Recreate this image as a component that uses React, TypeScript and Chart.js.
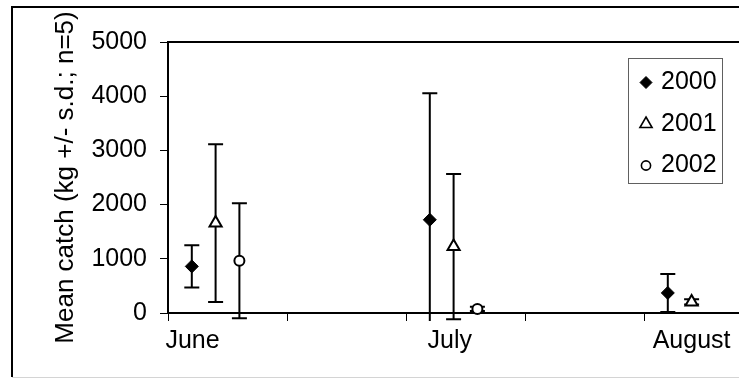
import React, { useEffect, useRef } from 'react';
import { Chart, registerables } from 'chart.js';

Chart.register(...registerables);

// Sampling months and where their names sit on the time axis
const months = ['June', 'July', 'August'];
const monthLabelAt = [1.03, 11.84, 22];
// Tick marks along the time axis
const axisTickAt = [0, 5, 10, 15, 20, 25];
// Value axis
const yMin = 0;
const yMax = 5000;
const yStep = 1000;

// Mean catch per survey (kg) and its standard deviation, by year
const years = ['2000', '2001', '2002'];
const x2000 = [1, 11, 21];
const mean2000 = [860, 1720, 370];
const sd2000 = [390, 2335, 350];

const x2001 = [2, 12, 22];
const mean2001 = [1660, 1225, 205];
const sd2001 = [1455, 1340, 50];

const x2002 = [3, 13];
const mean2002 = [965, 75];
const sd2002 = [1060, 40];

const FONT = '"Liberation Sans", Arial, Helvetica, sans-serif';
const TICK_SIZE = 25;
const TITLE_SIZE = 26;

const CANVAS_W = 780;
const CANVAS_H = 379;

type Marker = { style: string; radius: number; fill: string; line: number };
const markers: Marker[] = [
  { style: 'rectRot', radius: 6.5, fill: '#000000', line: 1 },
  { style: 'triangle', radius: 7, fill: '#ffffff', line: 2 },
  { style: 'circle', radius: 5, fill: '#ffffff', line: 2 },
];

function pts(xs: number[], ys: number[]) {
  return xs.map((x, i) => ({ x, y: ys[i] }));
}

function drawMarker(ctx: CanvasRenderingContext2D, m: Marker, x: number, y: number, r: number, lw: number) {
  ctx.save();
  ctx.beginPath();
  if (m.style === 'rectRot') {
    ctx.moveTo(x - r, y);
    ctx.lineTo(x, y - r);
    ctx.lineTo(x + r, y);
    ctx.lineTo(x, y + r);
    ctx.closePath();
  } else if (m.style === 'triangle') {
    const h = r * 1.5;
    const w = r * Math.sqrt(3);
    ctx.moveTo(x, y - h / 2 - r / 4);
    ctx.lineTo(x + w / 2, y + h / 2 - r / 4);
    ctx.lineTo(x - w / 2, y + h / 2 - r / 4);
    ctx.closePath();
  } else {
    ctx.arc(x, y, r, 0, Math.PI * 2);
  }
  ctx.fillStyle = m.fill;
  ctx.fill();
  ctx.lineWidth = lw;
  ctx.strokeStyle = '#000000';
  ctx.stroke();
  ctx.restore();
}

// Vertical +/- s.d. whiskers with end caps, drawn under the markers
const errorBars = {
  id: 'errorBars',
  beforeDatasetsDraw(chart: any) {
    const { ctx, chartArea, scales } = chart;
    const xs = scales.x;
    const ys = scales.y;
    ctx.save();
    ctx.beginPath();
    ctx.rect(chartArea.left, chartArea.top, chartArea.right - chartArea.left, chartArea.bottom - chartArea.top + 8);
    ctx.clip();
    ctx.strokeStyle = '#000000';
    ctx.lineWidth = 2;
    chart.data.datasets.forEach((ds: any) => {
      const errs: number[] = ds.errors || [];
      ds.data.forEach((p: any, i: number) => {
        const sd = errs[i] || 0;
        const px = xs.getPixelForValue(p.x);
        const top = ys.getPixelForValue(p.y + sd);
        const bot = ys.getPixelForValue(p.y - sd);
        const half = 7.5;
        ctx.beginPath();
        ctx.moveTo(px, top);
        ctx.lineTo(px, bot);
        ctx.moveTo(px - half, top);
        ctx.lineTo(px + half, top);
        ctx.moveTo(px - half, bot);
        ctx.lineTo(px + half, bot);
        ctx.stroke();
      });
    });
    ctx.restore();
  },
};

// Plot-area top edge, outer frame and the boxed legend
const decorations = {
  id: 'decorations',
  afterDraw(chart: any) {
    const { ctx, chartArea } = chart;
    ctx.save();
    ctx.strokeStyle = '#000000';
    ctx.lineWidth = 2;
    ctx.beginPath();
    ctx.moveTo(chartArea.left, chartArea.top);
    ctx.lineTo(chartArea.right, chartArea.top);
    ctx.lineTo(chartArea.right, chartArea.bottom);
    ctx.stroke();

    // outer frame
    ctx.beginPath();
    ctx.moveTo(12, 377);
    ctx.lineTo(12, 7);
    ctx.lineTo(CANVAS_W, 7);
    ctx.stroke();
    ctx.strokeStyle = '#d4d4d4';
    ctx.lineWidth = 1;
    ctx.beginPath();
    ctx.moveTo(12, 377.5);
    ctx.lineTo(CANVAS_W, 377.5);
    ctx.stroke();

    // legend
    const bx = chartArea.left + 460.5;
    const by = chartArea.top + 16.5;
    const bw = 94;
    const bh = 125;
    ctx.strokeStyle = '#606060';
    ctx.lineWidth = 1;
    ctx.strokeRect(bx, by, bw, bh);
    ctx.font = `${TICK_SIZE}px ${FONT}`;
    ctx.fillStyle = '#000000';
    ctx.textBaseline = 'middle';
    ctx.textAlign = 'left';
    const legendMarkerR = [6, 7, 4.6];
    const legendLine = [1, 1.6, 1.6];
    years.forEach((label, i) => {
      const cy = by + 24 + i * 41.5;
      drawMarker(ctx, markers[i], bx + 17.5, cy, legendMarkerR[i], legendLine[i]);
      ctx.fillStyle = '#000000';
      ctx.fillText(label, bx + 32.5, cy);
    });
    ctx.restore();
  },
};

export default function App() {
  const ref = useRef<HTMLCanvasElement | null>(null);

  useEffect(() => {
    if (!ref.current) return;
    const seriesX = [x2000, x2001, x2002];
    const seriesY = [mean2000, mean2001, mean2002];
    const seriesSd = [sd2000, sd2001, sd2002];

    const chart = new Chart(ref.current, {
      type: 'scatter',
      data: {
        datasets: years.map((label, i) => ({
          label,
          data: pts(seriesX[i], seriesY[i]),
          errors: seriesSd[i],
          showLine: false,
          pointStyle: markers[i].style,
          pointRadius: markers[i].radius,
          pointHoverRadius: markers[i].radius,
          pointBackgroundColor: markers[i].fill,
          pointBorderColor: '#000000',
          pointBorderWidth: markers[i].line,
          clip: 10,
        })) as any,
      },
      options: {
        responsive: false,
        animation: false,
        devicePixelRatio: 1,
        layout: { padding: { top: 42, right: 17, bottom: 0, left: 0 } },
        plugins: {
          legend: { display: false },
          tooltip: { enabled: false },
        },
        scales: {
          x: {
            type: 'linear',
            min: axisTickAt[0],
            max: axisTickAt[axisTickAt.length - 1],
            afterBuildTicks: (scale: any) => {
              const vals = [...axisTickAt, ...monthLabelAt].sort((a, b) => a - b);
              scale.ticks = vals.map((value) => ({ value }));
            },
            afterFit: (scale: any) => {
              scale.height = 66;
            },
            ticks: {
              autoSkip: false,
              maxRotation: 0,
              padding: 5,
              color: '#000000',
              font: { family: FONT, size: TICK_SIZE },
              callback: (value: any) => {
                const idx = monthLabelAt.indexOf(Number(value));
                return idx >= 0 ? months[idx] : '';
              },
            },
            grid: {
              drawOnChartArea: false,
              tickLength: 8,
              tickWidth: 1,
              color: '#000000',
              tickColor: (ctx: any) =>
                ctx.tick && monthLabelAt.includes(ctx.tick.value) ? 'rgba(0,0,0,0)' : '#000000',
            },
            border: { display: true, color: '#000000', width: 2 },
          },
          y: {
            type: 'linear',
            min: yMin,
            max: yMax,
            afterFit: (scale: any) => {
              scale.width = 168;
            },
            ticks: {
              stepSize: yStep,
              padding: 13,
              color: '#000000',
              font: { family: FONT, size: TICK_SIZE },
              callback: (value: any) => String(value),
            },
            grid: {
              drawOnChartArea: false,
              tickLength: 8,
              tickWidth: 1,
              color: '#000000',
            },
            border: { display: true, color: '#000000', width: 2 },
            title: {
              display: true,
              text: 'Mean catch (kg +/- s.d.; n=5)',
              color: '#000000',
              font: { family: FONT, size: TITLE_SIZE },
              padding: { top: 50, bottom: 0 },
            },
          },
        },
      },
      plugins: [errorBars, decorations],
    });

    return () => chart.destroy();
  }, []);

  return (
    <div
      style={{
        position: 'fixed',
        left: 0,
        top: 0,
        width: 739,
        height: 379,
        overflow: 'hidden',
        background: '#ffffff',
      }}
    >
      <canvas ref={ref} width={CANVAS_W} height={CANVAS_H} style={{ display: 'block' }} />
    </div>
  );
}
